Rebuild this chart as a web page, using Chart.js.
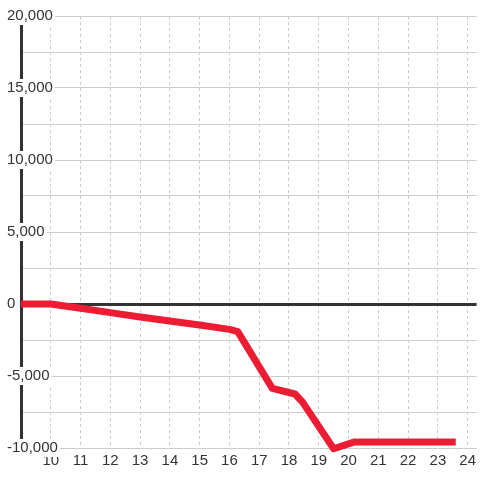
<!DOCTYPE html>
<html>
<head>
<meta charset="utf-8">
<script src="https://cdn.jsdelivr.net/npm/chart.js@4/dist/chart.umd.min.js"></script>
<style>
  html, body { margin: 0; padding: 0; background: #ffffff; }
  #wrap { width: 480px; height: 480px; }
</style>
</head>
<body>
<div id="wrap"><canvas id="c" width="480" height="480"></canvas></div>
<script>
const xValues = [9, 10, 11, 12, 13, 14, 15, 16, 16.28, 17.44, 18.2, 18.45, 19.5, 20.2, 23.6];
const yValues = [0, 0, -300, -600, -900, -1180, -1460, -1760, -1920, -5860, -6250, -6800, -10050, -9580, -9580];
const xTickValues = [10, 11, 12, 13, 14, 15, 16, 17, 18, 19, 20, 21, 22, 23, 24];
const yLabelStep = 5000;

const points = xValues.map((x, i) => ({ x: x, y: yValues[i] }));
const FONT = { family: 'Liberation Sans, Arial, sans-serif', size: 15 };

new Chart(document.getElementById('c'), {
  type: 'line',
  data: {
    datasets: [{
      data: points,
      borderColor: '#ec1c33',
      borderWidth: 7,
      pointRadius: 0,
      tension: 0,
      fill: false,
      clip: 10,
      borderJoinStyle: 'round'
    }]
  },
  options: {
    responsive: false,
    animation: false,
    maintainAspectRatio: false,
    layout: { padding: { top: 16, right: 0, bottom: 0, left: 0 } },
    plugins: { legend: { display: false }, tooltip: { enabled: false } },
    scales: {
      x: {
        type: 'linear',
        min: 9,
        max: 24.3,
        afterBuildTicks: (axis) => { axis.ticks = xTickValues.map(v => ({ value: v })); },
        afterFit: (axis) => { axis.height = 32; },
        grid: { color: '#cccccc', lineWidth: 1, drawTicks: false },
        border: { display: false, dash: [3, 3] },
        ticks: { color: '#333333', font: FONT, padding: 4, maxRotation: 0, autoSkip: false,
                 callback: (v) => String(v) }
      },
      y: {
        type: 'linear',
        min: -10000,
        max: 20000,
        afterFit: (axis) => { axis.width = 21; },
        grid: {
          drawTicks: false,
          color: (ctx) => (ctx.tick && ctx.tick.value === 0) ? '#333333' : '#cccccc',
          lineWidth: (ctx) => (ctx.tick && ctx.tick.value === 0) ? 3 : 1
        },
        border: { display: true, color: '#333333', width: 3 },
        ticks: {
          stepSize: 2500,
          mirror: true,
          crossAlign: 'near',
          padding: -14,
          z: 1,
          color: '#333333',
          font: FONT,
          showLabelBackdrop: true,
          backdropColor: '#ffffff',
          backdropPadding: { top: 0, bottom: 0, left: 2, right: 2 },
          callback: (v) => (v % yLabelStep === 0) ? v.toLocaleString('en-US') : ''
        }
      }
    }
  }
});
</script>
</body>
</html>
